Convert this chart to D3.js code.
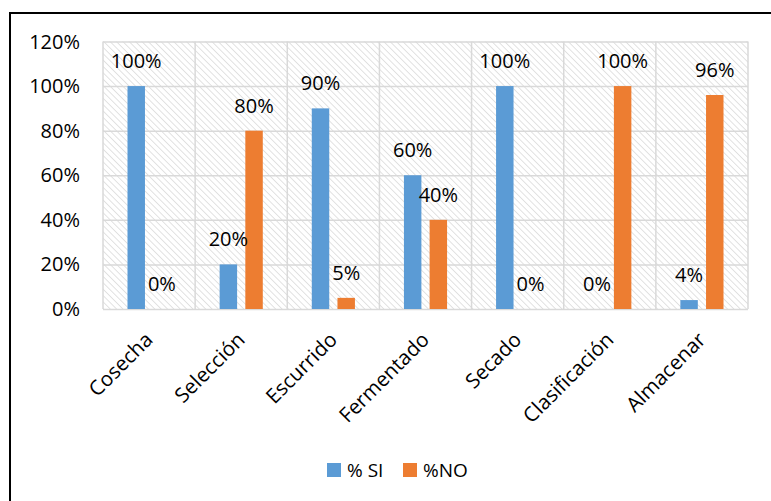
<!DOCTYPE html>
<html>
<head>
<meta charset="utf-8">
<script src="https://cdn.jsdelivr.net/npm/d3@7"></script>
<style>
  body { margin: 0; background: #fff; }
  svg text { font-family: "Open Sans", sans-serif; fill: #000; }
</style>
</head>
<body>
<div id="chart"></div>
<script>
var categories = ['Cosecha', 'Selección', 'Escurrido', 'Fermentado', 'Secado', 'Clasificación', 'Almacenar'];
var seriesNames = ['% SI', '%NO'];
var siValues = [100, 20, 90, 60, 100, 0, 4];
var noValues = [0, 80, 5, 40, 0, 100, 96];
var yTicks = [0, 20, 40, 60, 80, 100, 120];
var colors = ['#5B9BD5', '#ED7D31'];

var width = 771;
var height = 501;

var margin = {
  top: 41.5,
  left: 103,
  right: 23,
  bottom: 192
};

var svg = d3.select('#chart')
  .append('svg')
  .attr('width', width)
  .attr('height', height);

// hatch pattern for plot background
var defs = svg.append('defs');
defs.append('pattern')
  .attr('id', 'hatch')
  .attr('patternUnits', 'userSpaceOnUse')
  .attr('width', 4.5)
  .attr('height', 4.5)
  .attr('patternTransform', 'rotate(-45)')
  .append('line')
  .attr('x1', 0).attr('y1', 0)
  .attr('x2', 0).attr('y2', 4.5)
  .attr('stroke', '#d3d3d3')
  .attr('stroke-width', 1.3);

// outer frame (right and bottom edges fall outside the picture)
svg.append('rect')
  .attr('x', 10)
  .attr('y', 13)
  .attr('width', 900)
  .attr('height', 700)
  .attr('fill', 'none')
  .attr('stroke', '#000')
  .attr('stroke-width', 2);

var w = width - margin.left - margin.right;
var h = height - margin.top - margin.bottom;

var g = svg.append('g')
  .attr('transform', 'translate(' + margin.left + ',' + margin.top + ')');

var x0 = d3.scaleBand()
  .domain(categories)
  .range([0, w])
  .padding(0);

var x1 = d3.scaleBand()
  .domain(seriesNames)
  .range([24.5, x0.bandwidth() - 24.5])
  .paddingInner(0.32);

var y = d3.scaleLinear()
  .domain([0, 120])
  .range([h, 0]);

g.append('rect')
  .attr('width', w)
  .attr('height', h)
  .attr('fill', 'url(#hatch)');

// horizontal gridlines
g.append('g')
  .attr('class', 'grid')
  .call(d3.axisLeft(y).tickValues(yTicks).tickSize(-w).tickFormat(''))
  .call(function(s) { s.select('.domain').remove(); })
  .selectAll('line')
  .attr('stroke', '#d9d9d9')
  .attr('stroke-width', 1.5);

// vertical gridlines at category edges
g.append('g')
  .selectAll('line')
  .data(d3.range(categories.length + 1))
  .enter()
  .append('line')
  .attr('x1', function(i) { return i * x0.bandwidth(); })
  .attr('x2', function(i) { return i * x0.bandwidth(); })
  .attr('y1', 0)
  .attr('y2', h)
  .attr('stroke', '#d9d9d9')
  .attr('stroke-width', 1.5);

// y tick labels
g.append('g')
  .selectAll('text')
  .data(yTicks)
  .enter()
  .append('text')
  .attr('x', -23)
  .attr('y', function(d) { return y(d); })
  .attr('dy', '0.35em')
  .attr('text-anchor', 'end')
  .style('font-size', '20px')
  .text(function(d) { return d + '%'; });

var rows = categories.map(function(c, i) {
  return [
    { cat: c, key: seriesNames[0], value: siValues[i] },
    { cat: c, key: seriesNames[1], value: noValues[i] }
  ];
});

var groups = g.selectAll('.group')
  .data(rows)
  .enter()
  .append('g')
  .attr('class', 'group')
  .attr('transform', function(d) { return 'translate(' + x0(d[0].cat) + ',0)'; });

groups.selectAll('rect')
  .data(function(d) { return d; })
  .enter()
  .append('rect')
  .attr('x', function(d) { return x1(d.key); })
  .attr('width', x1.bandwidth())
  .attr('y', function(d) { return y(d.value); })
  .attr('height', function(d) { return h - y(d.value); })
  .attr('fill', function(d, i) { return colors[i]; });

groups.selectAll('.lbl')
  .data(function(d) { return d; })
  .enter()
  .append('text')
  .attr('class', 'lbl')
  .attr('x', function(d) { return x1(d.key) + x1.bandwidth() / 2; })
  .attr('y', function(d) { return y(d.value) - 18; })
  .attr('text-anchor', 'middle')
  .style('font-size', '20px')
  .text(function(d) { return d.value + '%'; });

// rotated category labels
g.append('g')
  .selectAll('text')
  .data(categories)
  .enter()
  .append('text')
  .attr('transform', function(d) {
    return 'translate(' + (x0(d) + x0.bandwidth() / 2 + 5) + ',' + (h + 32) + ') rotate(-45)';
  })
  .attr('text-anchor', 'end')
  .style('font-size', '20.5px')
  .text(function(d) { return d; });

// legend
var legend = svg.append('g')
  .attr('transform', 'translate(327,463)');

var legendX = [0, 76];
seriesNames.forEach(function(name, i) {
  legend.append('rect')
    .attr('x', legendX[i])
    .attr('y', 0)
    .attr('width', 14)
    .attr('height', 14)
    .attr('fill', colors[i]);
  legend.append('text')
    .attr('x', legendX[i] + 20)
    .attr('y', 7)
    .attr('dy', '0.35em')
    .style('font-size', '19px')
    .text(name);
});
</script>
</body>
</html>
